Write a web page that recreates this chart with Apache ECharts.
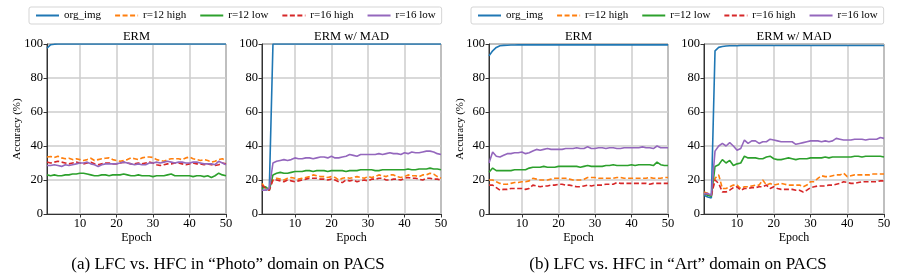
<!DOCTYPE html>
<html>
<head>
<meta charset="utf-8">
<script src="https://cdn.jsdelivr.net/npm/echarts@6/dist/echarts.min.js"></script>
<style>
html,body{margin:0;padding:0;background:#fff;}
#chart{width:904px;height:279px;}
</style>
</head>
<body>
<div id="chart"></div>
<script>
const epochs = [1,2,3,4,5,6,7,8,9,10,11,12,13,14,15,16,17,18,19,20,21,22,23,24,25,26,27,28,29,30,31,32,33,34,35,36,37,38,39,40,41,42,43,44,45,46,47,48,49,50];
const seriesNames = ['org_img','r=12 high','r=12 low','r=16 high','r=16 low'];
const xTicks = [10,20,30,40,50];
const yTicks = [0,20,40,60,80,100];
const panelTitles = ['ERM','ERM w/ MAD','ERM','ERM w/ MAD'];
const captions = ['(a) LFC vs. HFC in \u201cPhoto\u201d domain on PACS','(b) LFC vs. HFC in \u201cArt\u201d domain on PACS'];

// Photo, ERM
const p1_org = [97.5,99.6,99.9,100,100,100,100,100,100,100, 100,100,100,100,100,100,100,100,100,100, 100,100,100,100,100,100,100,100,100,100, 100,100,100,100,100,100,100,100,100,100, 100,100,100,100,100,100,100,100,100,100];
const p1_h12 = [33.5,33.8,33.2,34.0,33.0,32.5,32.8,32.0,32.5,32.0, 31.5,32.0,32.8,31.5,32.0,32.5,32.8,33.0,32.0,31.5, 31.0,31.5,32.0,33.0,32.5,32.0,33.0,33.5,33.5,33.3, 32.0,31.5,31.0,32.0,32.5,32.5,32.5,32.0,33.0,33.5, 32.5,32.0,31.5,32.0,31.5,30.5,31.0,32.0,32.5,31.5];
const p1_l12 = [23.0,22.5,23.0,22.5,22.5,23.0,23.0,23.5,23.5,24.0, 24.0,23.5,23.0,22.5,22.5,23.0,23.0,22.5,23.0,23.0, 23.0,23.5,23.0,22.5,22.5,23.0,22.5,22.5,22.5,22.0, 22.5,22.5,22.5,23.0,23.5,22.5,22.5,22.5,22.5,22.5, 22.0,22.5,22.5,22.0,22.5,21.5,22.5,24.0,23.0,22.5];
const p1_h16 = [30.5,30.0,30.5,31.0,30.5,30.0,29.5,30.0,30.5,30.0, 29.5,30.0,30.5,29.5,29.0,29.5,30.0,30.0,29.5,29.5, 30.0,30.5,30.0,29.5,29.5,30.0,29.5,30.0,30.5,30.0, 29.0,28.5,29.0,29.5,29.5,30.0,30.0,29.5,29.0,29.5, 30.0,29.5,29.5,29.0,29.5,29.0,28.5,29.0,30.0,29.5];
const p1_l16 = [28.5,28.5,29.0,28.5,28.0,29.0,28.5,29.0,29.5,30.0, 30.0,30.5,29.5,29.0,28.0,29.0,29.5,29.5,29.5,29.5, 30.0,30.5,30.0,29.5,29.0,29.5,29.0,29.0,30.0,30.0, 30.5,30.0,30.5,31.0,30.5,30.0,30.5,30.5,30.0,30.0, 30.5,30.5,30.0,29.5,29.5,29.5,29.0,31.0,30.0,29.0];

// Photo, ERM w/ MAD
const p2_org = [14.0,14.0,15.0,100,100,100,100,100,100,100, 100,100,100,100,100,100,100,100,100,100, 100,100,100,100,100,100,100,100,100,100, 100,100,100,100,100,100,100,100,100,100, 100,100,100,100,100,100,100,100,100,100];
const p2_h12 = [18.0,15.0,15.0,20.0,21.0,20.5,20.0,21.0,21.5,21.0, 20.5,21.0,21.5,22.0,23.0,22.5,22.0,22.0,21.5,22.0, 21.5,20.0,21.0,21.5,21.0,21.5,22.0,21.5,21.0,22.0, 21.5,22.0,23.0,22.5,22.0,23.0,23.0,22.0,21.5,22.0, 23.0,22.5,22.5,22.0,23.0,23.0,24.0,23.5,22.0,21.0];
const p2_l12 = [15.0,16.0,14.0,23.0,24.0,24.5,24.0,24.0,24.5,25.0, 25.0,25.0,25.5,25.5,25.0,25.5,25.5,25.5,25.0,25.5, 25.5,25.5,25.5,25.0,25.5,25.5,25.5,26.0,26.0,26.0, 26.0,25.5,25.5,26.0,26.0,26.0,26.0,26.0,26.0,26.0, 26.5,26.0,26.0,26.5,26.5,26.5,27.0,26.5,26.5,26.0];
const p2_h16 = [17.0,15.0,14.0,20.0,20.0,19.5,19.0,20.0,19.5,19.0, 19.5,20.0,20.5,21.0,21.0,21.0,20.5,20.5,20.0,20.5, 20.0,19.0,18.5,20.0,19.5,20.0,19.0,19.5,20.0,19.5, 20.5,20.5,21.0,21.0,20.0,20.0,20.5,20.5,20.0,21.0, 21.5,21.0,21.0,20.5,20.0,21.0,21.0,20.5,20.5,20.0];
const p2_l16 = [14.0,14.0,15.0,30.0,31.0,31.5,32.0,31.5,32.0,33.0, 32.5,32.5,33.0,33.0,32.5,33.0,33.5,33.5,33.0,34.0, 33.0,33.0,33.5,34.0,35.0,34.5,34.0,35.0,35.0,35.0, 35.0,35.0,35.5,35.0,35.5,36.0,35.5,35.5,35.0,36.0, 35.5,36.5,36.0,36.0,36.5,37.0,37.0,36.5,35.5,35.0];

// Art, ERM
const p3_org = [93.0,96.0,98.0,99.0,99.2,99.3,99.4,99.4,99.5,99.5, 99.5,99.5,99.5,99.5,99.5,99.5,99.5,99.5,99.5,99.5, 99.5,99.5,99.5,99.5,99.5,99.5,99.5,99.5,99.5,99.5, 99.5,99.5,99.5,99.5,99.5,99.5,99.5,99.5,99.5,99.5, 99.5,99.5,99.5,99.5,99.5,99.5,99.5,99.5,99.5,99.5];
const p3_h12 = [20.0,20.0,19.0,18.0,17.5,17.5,18.0,18.5,18.5,19.0, 19.0,19.5,21.0,20.5,20.0,20.0,20.0,20.5,21.0,21.0, 21.0,21.0,20.5,20.0,20.0,20.0,20.5,21.5,21.5,21.5, 21.0,21.0,21.0,21.0,21.0,21.5,21.5,21.0,21.0,21.0, 21.0,21.0,21.0,21.0,21.5,21.0,21.0,21.0,21.5,21.5];
const p3_l12 = [24.5,27.0,25.5,25.5,25.5,25.5,25.5,26.0,26.0,26.0, 26.0,27.0,27.5,27.5,27.5,28.0,27.5,27.5,27.5,28.0, 28.0,28.0,28.0,28.0,28.0,27.5,28.0,28.5,28.0,28.0, 28.0,28.0,28.5,28.5,29.0,28.5,28.5,28.5,28.5,29.0, 28.5,29.0,29.0,29.0,29.0,28.5,30.5,29.0,28.5,28.5];
const p3_h16 = [17.0,17.0,15.5,14.0,14.5,14.5,15.0,15.0,15.0,15.0, 14.5,15.0,17.0,16.5,16.0,16.5,16.5,17.0,17.0,17.5, 17.5,17.0,17.0,16.5,16.0,16.0,16.5,17.0,16.5,17.0, 17.0,17.0,17.5,17.5,17.5,18.5,18.0,18.0,18.0,18.0, 18.0,18.0,18.0,18.0,17.5,18.0,18.0,18.0,18.0,18.0];
const p3_l16 = [30.0,36.5,34.0,33.5,34.5,35.5,35.5,36.0,36.0,36.5, 35.5,36.0,37.0,38.0,37.5,38.0,38.5,38.0,38.0,38.0, 38.0,38.5,38.5,38.5,39.0,38.5,38.5,39.5,38.5,38.5, 39.0,39.0,38.5,39.0,39.0,38.5,38.5,39.0,39.0,39.0, 39.0,39.0,39.5,39.0,39.0,38.5,40.0,39.0,39.0,39.0];

// Art, ERM w/ MAD
const p4_org = [11.0,10.0,9.5,96.0,98.0,98.5,98.8,99.0,99.0,99.0, 99.1,99.1,99.1,99.1,99.1,99.1,99.1,99.1,99.1,99.1, 99.1,99.1,99.1,99.1,99.1,99.1,99.1,99.1,99.1,99.1, 99.1,99.1,99.1,99.1,99.1,99.1,99.1,99.1,99.1,99.1, 99.1,99.1,99.1,99.1,99.1,99.1,99.1,99.1,99.1,99.1];
const p4_h12 = [13.0,12.0,11.0,21.0,23.0,15.0,15.0,16.0,17.0,17.0, 15.0,16.0,16.0,16.5,17.0,17.0,20.0,17.0,18.0,17.0, 17.5,18.0,17.5,17.0,17.0,17.0,17.0,16.0,17.0,19.0, 19.0,21.0,22.5,22.0,22.0,22.5,23.0,23.0,24.0,22.0, 22.5,23.0,23.0,23.0,23.0,23.0,23.5,23.5,23.5,23.5];
const p4_l12 = [12.0,11.0,10.5,28.0,29.0,32.0,30.0,31.5,28.5,29.5, 30.0,34.0,33.0,33.0,33.0,32.5,32.5,33.5,34.0,32.5, 32.0,32.0,32.5,33.0,32.5,32.0,32.5,32.5,32.5,33.0, 33.0,33.0,33.0,33.5,33.0,33.5,33.5,33.5,33.5,33.5, 33.5,34.0,34.0,33.5,34.0,34.0,34.0,34.0,34.0,33.5];
const p4_h16 = [12.0,12.0,11.0,20.0,18.0,13.0,13.0,14.0,15.5,16.0, 14.0,15.0,15.0,15.5,15.5,16.0,16.0,17.0,15.0,16.0, 15.0,14.5,14.5,14.5,14.5,14.0,14.0,13.0,14.0,15.5, 16.0,16.5,16.5,16.5,17.0,17.0,17.5,18.0,19.0,18.5, 18.0,18.0,18.5,19.0,19.0,19.0,19.0,19.0,19.5,19.5];
const p4_l16 = [12.0,12.0,11.0,37.0,40.0,41.5,40.0,42.0,40.0,37.5, 38.5,43.5,41.5,43.0,43.0,41.5,42.5,42.5,44.0,43.5, 43.0,42.5,42.5,42.5,42.5,41.0,41.5,42.0,42.5,43.0, 43.0,43.0,42.5,43.0,42.5,43.0,44.5,44.0,43.5,43.5, 43.5,44.0,44.0,44.0,43.5,44.0,44.0,44.0,45.0,44.5];

const panels = [
  [p1_org,p1_h12,p1_l12,p1_h16,p1_l16],
  [p2_org,p2_h12,p2_l12,p2_h16,p2_l16],
  [p3_org,p3_h12,p3_l12,p3_h16,p3_l16],
  [p4_org,p4_h12,p4_l12,p4_h16,p4_l16]
];

const FONT = 'Liberation Serif';
const colors = ['#1f77b4','#ff7f0e','#2ca02c','#d62728','#9467bd'];
const dashed = [false,true,false,true,false];
const gridRects = [
  {left:47, top:44, width:179, height:170},
  {left:262, top:44, width:179, height:170},
  {left:489, top:44, width:179, height:170},
  {left:704, top:44, width:180, height:170}
];

const grids = gridRects.map(r => ({left:r.left, top:r.top, width:r.width, height:r.height,
  show:true, borderColor:'#333', borderWidth:1, backgroundColor:'transparent'}));

const xAxes = gridRects.map((r,i) => ({
  type:'value', gridIndex:i, min:1, max:50,
  name:'Epoch', nameLocation:'middle', nameGap:18, nameMoveOverlap:false,
  nameTextStyle:{fontFamily:FONT, fontSize:12, color:'#000'},
  axisLine:{show:true, lineStyle:{color:'#333', width:1}},
  axisTick:{show:true, length:3.5, lineStyle:{color:'#333'}, customValues:xTicks},
  axisLabel:{fontFamily:FONT, fontSize:12.5, color:'#000', margin:3, customValues:xTicks},
  splitLine:{show:true, lineStyle:{color:'#cccccc', width:1.5}}
}));

const yAxes = gridRects.map((r,i) => ({
  type:'value', gridIndex:i, min:0, max:100, interval:20,
  name:(i===0||i===2)?'Accuracy (%)':'', nameLocation:'middle', nameRotate:90, nameGap:(i===0?24:23), nameMoveOverlap:false,
  nameTextStyle:{fontFamily:FONT, fontSize:11, color:'#000'},
  axisLine:{show:true, lineStyle:{color:'#333', width:1}},
  axisTick:{show:true, length:3.5, lineStyle:{color:'#333'}},
  axisLabel:{fontFamily:FONT, fontSize:12.5, color:'#000', margin:4},
  splitLine:{show:true, lineStyle:{color:'#cccccc', width:1.5}}
}));

const series = [];
panels.forEach((vals,pi) => {
  vals.forEach((arr,si) => {
    series.push({
      type:'line', name:seriesNames[si], xAxisIndex:pi, yAxisIndex:pi,
      data: epochs.map((e,k) => [e, arr[k]]),
      symbol:'none', showSymbol:false, animation:false, clip:true,
      color:colors[si],
      lineStyle:{color:colors[si], width:1.6, type: dashed[si] ? [5,2.5] : 'solid'},
      z: 2+si
    });
  });
});

const legendBase = {
  data:seriesNames, orient:'horizontal', top:7,
  itemWidth:23, itemHeight:10, itemGap:13,
  padding:[3,6], borderColor:'#d5d5d5', borderWidth:1, borderRadius:2,
  backgroundColor:'#fff',
  itemStyle:{opacity:0},
  textStyle:{fontFamily:FONT, fontSize:11, color:'#000'}
};

const graphics = [];
gridRects.forEach((r,i) => {
  graphics.push({type:'text', x:r.left + r.width/2, y:37,
    style:{text:panelTitles[i], font:'12.5px "Liberation Serif"', fill:'#000', textAlign:'center', textVerticalAlign:'middle'}});
});
graphics.push({type:'text', x:228, y:265, style:{text:captions[0], font:'17px "Liberation Serif"', fill:'#000', textAlign:'center', textVerticalAlign:'middle'}});
graphics.push({type:'text', x:678, y:265, style:{text:captions[1], font:'17px "Liberation Serif"', fill:'#000', textAlign:'center', textVerticalAlign:'middle'}});

const chart = echarts.init(document.getElementById('chart'), null, {renderer:'canvas'});
chart.setOption({
  animation:false,
  backgroundColor:'#fff',
  grid:grids, xAxis:xAxes, yAxis:yAxes, series:series,
  legend:[Object.assign({}, legendBase, {left:29}), Object.assign({}, legendBase, {left:471})],
  graphic:graphics
});
</script>
</body>
</html>
